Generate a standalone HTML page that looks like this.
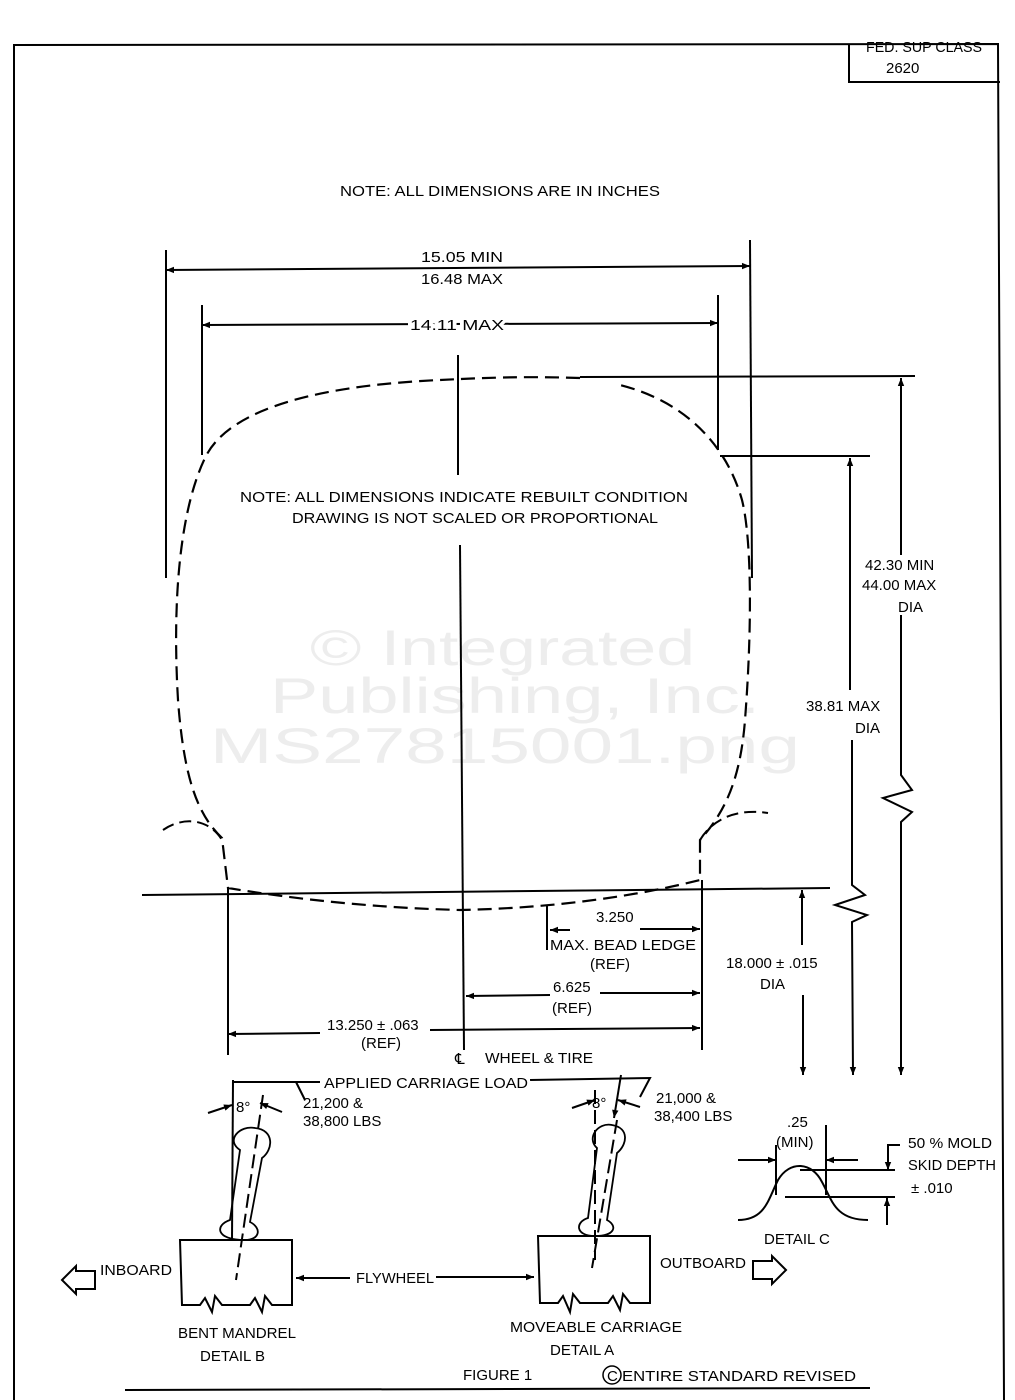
<!DOCTYPE html>
<html><head><meta charset="utf-8"><style>
html,body{margin:0;padding:0;background:#fff}
svg{display:block}
text{font-family:"Liberation Sans Narrow","Liberation Sans",sans-serif;font-size:15px;fill:#000}
</style></head><body>
<svg width="1015" height="1400" viewBox="0 0 1015 1400" xmlns="http://www.w3.org/2000/svg">
<defs>
<marker id="a" viewBox="0 0 10 10" refX="10" refY="5" markerWidth="12" markerHeight="8" orient="auto-start-reverse" markerUnits="userSpaceOnUse"><path d="M0,1 L10,5 L0,9 Z" fill="#000"/></marker>
</defs>
<g stroke="#000" fill="none" stroke-width="2">
<path d="M14,1400 L14,45 L998,44 L1004,1400"/>
<path d="M849,44 L849,82 L1000,82"/>
<path d="M125,1390 L870,1388"/>
</g>
<text x="866" y="52" font-size="11" textLength="116" lengthAdjust="spacingAndGlyphs">FED. SUP CLASS</text>
<text x="886" y="73" font-size="14">2620</text>
<text x="340" y="196" font-size="16" textLength="320" lengthAdjust="spacingAndGlyphs">NOTE:  ALL DIMENSIONS ARE IN INCHES</text>

<g style="fill:#ededed;font-family:'Liberation Sans',sans-serif;font-size:50px">
<text x="310" y="665" textLength="385" lengthAdjust="spacingAndGlyphs" style="fill:#ededed;font-family:'Liberation Sans',sans-serif;font-size:50px">© Integrated</text>
<text x="270" y="713" textLength="490" lengthAdjust="spacingAndGlyphs" style="fill:#ededed;font-family:'Liberation Sans',sans-serif;font-size:50px">Publishing, Inc.</text>
<text x="210" y="763" textLength="590" lengthAdjust="spacingAndGlyphs" style="fill:#ededed;font-family:'Liberation Sans',sans-serif;font-size:50px">MS27815001.png</text>
</g>

<g stroke="#000" fill="none" stroke-width="2">
<line x1="166" y1="250" x2="166" y2="578"/>
<line x1="750" y1="240" x2="752" y2="578"/>
<line x1="202" y1="305" x2="202" y2="455"/>
<line x1="718" y1="295" x2="718" y2="450"/>
<line x1="166" y1="270" x2="750" y2="266" marker-start="url(#a)" marker-end="url(#a)"/>
<line x1="202" y1="325" x2="718" y2="323" marker-start="url(#a)" marker-end="url(#a)"/>
<line x1="458" y1="355" x2="458" y2="475"/>
<line x1="460" y1="545" x2="464" y2="1050"/>
<path stroke-dasharray="14,7" stroke-width="2.2" d="M580,378 C520,376 480,378 440,380 C330,385 230,405 205,458 C180,510 172,600 178,700 C184,780 198,815 222,838 L228,888 C300,900 380,908 460,910 C560,908 640,895 700,880 L700,840 C722,815 740,785 745,720 C752,630 752,540 742,500 C725,440 680,400 620,385"/>
<path stroke-dasharray="12,6" d="M163,830 C185,815 210,820 222,840"/>
<path stroke-dasharray="12,6" d="M700,840 C712,820 735,808 768,813"/>
<line x1="142" y1="895" x2="830" y2="888"/>
<line x1="580" y1="377" x2="915" y2="376"/>
<line x1="720" y1="456" x2="870" y2="456"/>
<line x1="228" y1="888" x2="228" y2="1055"/>
<line x1="702" y1="880" x2="702" y2="1050"/>
<line x1="547" y1="905" x2="547" y2="950"/>
<line x1="550" y1="930" x2="570" y2="930" marker-start="url(#a)"/>
<line x1="640" y1="929" x2="700" y2="929" marker-end="url(#a)"/>
<line x1="466" y1="996" x2="550" y2="995" marker-start="url(#a)"/>
<line x1="600" y1="993" x2="700" y2="993" marker-end="url(#a)"/>
<line x1="228" y1="1034" x2="320" y2="1033" marker-start="url(#a)"/>
<line x1="430" y1="1030" x2="700" y2="1028" marker-end="url(#a)"/>
<line x1="901" y1="378" x2="901" y2="555" marker-start="url(#a)"/>
<path d="M901,615 L901,775 L912,790 L883,798 L912,812 L901,822 L901,1075" marker-end="url(#a)"/>
<line x1="850" y1="458" x2="850" y2="690" marker-start="url(#a)"/>
<path d="M852,740 L852,885 L865,895 L835,905 L867,915 L852,922 L853,1075" marker-end="url(#a)"/>
<line x1="802" y1="890" x2="802" y2="945" marker-start="url(#a)"/>
<line x1="803" y1="995" x2="803" y2="1075" marker-end="url(#a)"/>
</g>

<g font-size="15">
<text x="421" y="262" textLength="82" lengthAdjust="spacingAndGlyphs">15.05 MIN</text>
<text x="421" y="284" textLength="82" lengthAdjust="spacingAndGlyphs">16.48 MAX</text>
<text x="410" y="330" textLength="94" lengthAdjust="spacingAndGlyphs" style="paint-order:stroke;stroke:#fff;stroke-width:6px">14.11 MAX</text>
<text x="240" y="502" textLength="448" lengthAdjust="spacingAndGlyphs">NOTE: ALL DIMENSIONS INDICATE REBUILT CONDITION</text>
<text x="292" y="523" textLength="366" lengthAdjust="spacingAndGlyphs">DRAWING IS NOT SCALED OR PROPORTIONAL</text>
<text x="865" y="570">42.30 MIN</text>
<text x="862" y="590">44.00 MAX</text>
<text x="898" y="612">DIA</text>
<text x="806" y="711">38.81 MAX</text>
<text x="855" y="733">DIA</text>
<text x="596" y="922">3.250</text>
<text x="550" y="950" textLength="146" lengthAdjust="spacingAndGlyphs">MAX. BEAD LEDGE</text>
<text x="590" y="969" font-size="13">(REF)</text>
<text x="726" y="968">18.000 ± .015</text>
<text x="760" y="989">DIA</text>
<text x="553" y="992">6.625</text>
<text x="552" y="1013">(REF)</text>
<text x="327" y="1030">13.250 ± .063</text>
<text x="361" y="1048">(REF)</text>
<text x="455" y="1064" font-size="20">℄</text>
<text x="485" y="1063" textLength="108" lengthAdjust="spacingAndGlyphs">WHEEL &amp; TIRE</text>
</g>

<g stroke="#000" fill="none" stroke-width="2">
<path d="M233,1082 L320,1082 M530,1080 L650,1078 L640,1097"/>
<path d="M296,1082 L305,1100"/>
<line x1="233" y1="1080" x2="232" y2="1240"/>
<line x1="621" y1="1075" x2="614" y2="1118" marker-end="url(#a)"/>
<line x1="208" y1="1113" x2="232" y2="1105" marker-end="url(#a)"/>
<line x1="282" y1="1112" x2="260" y2="1103" marker-end="url(#a)"/>
<line x1="572" y1="1108" x2="595" y2="1100" marker-end="url(#a)"/>
<line x1="640" y1="1107" x2="618" y2="1100" marker-end="url(#a)"/>
<line x1="263" y1="1095" x2="236" y2="1280" stroke-dasharray="14,6"/>
<line x1="595" y1="1090" x2="595" y2="1260" stroke-dasharray="14,6"/>
<line x1="617" y1="1120" x2="592" y2="1268" stroke-dasharray="14,6"/>
<path d="M245,1240 C215,1240 215,1225 230,1220 L240,1150 C225,1140 240,1125 255,1128 C275,1130 273,1150 262,1158 L250,1222 C262,1228 260,1240 245,1240 Z" stroke-width="1.8"/>
<path d="M595,1236 C575,1236 575,1222 588,1218 L597,1148 C586,1138 598,1122 612,1125 C630,1128 627,1145 617,1153 L607,1220 C618,1226 615,1236 595,1236 Z" stroke-width="1.8"/>
<path d="M180,1240 L292,1240 L292,1305 L272,1305 L265,1296 L262,1312 L255,1298 L250,1305 L222,1305 L215,1296 L212,1312 L205,1298 L200,1305 L182,1305 Z"/>
<path d="M538,1236 L650,1236 L650,1303 L630,1303 L623,1294 L620,1310 L613,1296 L608,1303 L580,1303 L573,1294 L570,1312 L563,1296 L558,1303 L540,1303 Z"/>
<line x1="296" y1="1278" x2="350" y2="1278" marker-start="url(#a)"/>
<line x1="436" y1="1277" x2="534" y2="1277" marker-end="url(#a)"/>
<path d="M62,1280 L76,1266 L76,1271 L95,1271 L95,1289 L76,1289 L76,1294 Z"/>
<path d="M786,1270 L772,1256 L772,1261 L753,1261 L753,1279 L772,1279 L772,1284 Z"/>
<line x1="776" y1="1145" x2="776" y2="1195"/>
<line x1="826" y1="1125" x2="826" y2="1195"/>
<line x1="738" y1="1160" x2="776" y2="1160" marker-end="url(#a)"/>
<line x1="858" y1="1160" x2="826" y2="1160" marker-end="url(#a)"/>
<path d="M738,1220 C765,1220 768,1200 778,1180 C790,1160 812,1162 822,1182 C832,1200 835,1220 868,1220"/>
<line x1="800" y1="1170" x2="895" y2="1170"/>
<line x1="785" y1="1197" x2="895" y2="1197"/>
<path d="M888,1170 L888,1145 L900,1145" marker-start="url(#a)"/>
<line x1="887" y1="1225" x2="887" y2="1198" marker-end="url(#a)"/>
</g>
<g font-size="15">
<text x="324" y="1088" textLength="204" lengthAdjust="spacingAndGlyphs" style="paint-order:stroke;stroke:#fff;stroke-width:6px">APPLIED CARRIAGE LOAD</text>
<text x="236" y="1112" font-size="17">8°</text>
<text x="592" y="1108" font-size="17">8°</text>
<text x="303" y="1108">21,200 &amp;</text>
<text x="303" y="1126">38,800 LBS</text>
<text x="656" y="1103">21,000 &amp;</text>
<text x="654" y="1121">38,400 LBS</text>
<text x="787" y="1127">.25</text>
<text x="776" y="1147">(MIN)</text>
<text x="908" y="1148" textLength="84" lengthAdjust="spacingAndGlyphs">50 % MOLD</text>
<text x="908" y="1170" textLength="88" lengthAdjust="spacingAndGlyphs">SKID DEPTH</text>
<text x="911" y="1193">±  .010</text>
<text x="764" y="1244">DETAIL  C</text>
<text x="100" y="1275" textLength="72" lengthAdjust="spacingAndGlyphs">INBOARD</text>
<text x="660" y="1268" textLength="86" lengthAdjust="spacingAndGlyphs">OUTBOARD</text>
<text x="356" y="1283" textLength="78" lengthAdjust="spacingAndGlyphs">FLYWHEEL</text>
<text x="178" y="1338" textLength="118" lengthAdjust="spacingAndGlyphs">BENT MANDREL</text>
<text x="200" y="1361">DETAIL B</text>
<text x="510" y="1332" textLength="172" lengthAdjust="spacingAndGlyphs">MOVEABLE CARRIAGE</text>
<text x="550" y="1355">DETAIL  A</text>
<text x="463" y="1380">FIGURE 1</text>
<circle cx="612" cy="1375" r="9" fill="none" stroke="#000" stroke-width="1.5"/>
<text x="607" y="1381" font-size="13">C</text>
<text x="622" y="1381" textLength="234" lengthAdjust="spacingAndGlyphs">ENTIRE STANDARD  REVISED</text>
</g>
</svg>
</body></html>
